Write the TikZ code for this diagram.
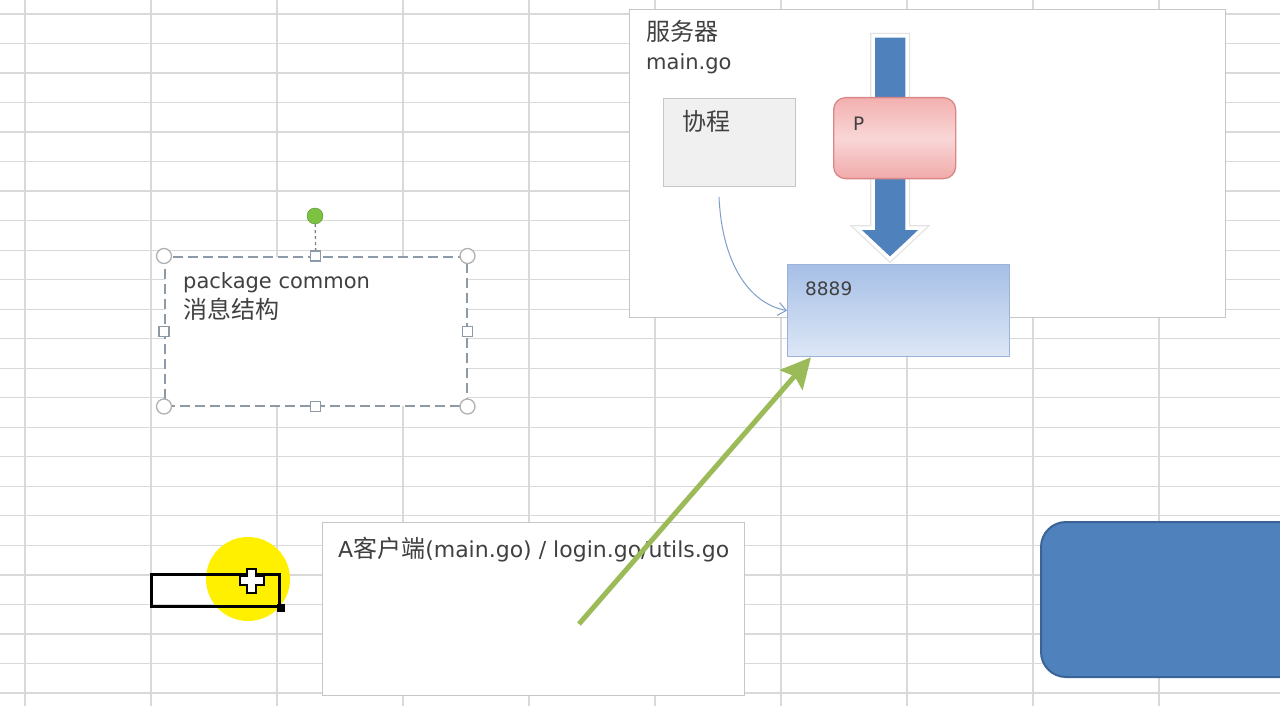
\documentclass[tikz,border=0pt]{standalone}
\usepackage{fontspec}
\setmainfont{DejaVu Sans}
\newfontfamily\cjk{Noto Sans CJK SC}
\usetikzlibrary{positioning,arrows.meta}
\definecolor{gridgray}{HTML}{D9D9D9}
\definecolor{boxedge}{HTML}{C6C6C6}
\definecolor{ink}{HTML}{404040}
\definecolor{officeblue}{HTML}{4F81BD}
\definecolor{officeedge}{HTML}{3B6496}
\definecolor{porttop}{HTML}{A6BFE6}
\definecolor{portbottom}{HTML}{DDE7F6}
\definecolor{portedge}{HTML}{9CB3D9}
\definecolor{pinktop}{HTML}{F3B0B0}
\definecolor{pinkmid}{HTML}{F9D6D6}
\definecolor{pinkbottom}{HTML}{F1AAAA}
\definecolor{pinkedge}{HTML}{D98787}
\definecolor{leafgreen}{HTML}{9BBB59}
\definecolor{curveblue}{HTML}{7F9FC9}
\definecolor{handlegreen}{HTML}{7CC142}
\definecolor{handleedge}{HTML}{8C99A6}
\definecolor{marker}{HTML}{FFF000}
\newcommand{\zhtext}[1]{{\cjk\fontsize{24}{28}\selectfont #1}}
\tikzset{
  gridline/.style={draw=gridgray, line width=1.3pt},
  panel/.style={draw=boxedge, fill=white, line width=1.3pt, inner sep=0, anchor=north west},
  lbl/.style={inner sep=0, anchor=base west, text=ink, font=\fontsize{21}{25}\selectfont},
  smalllbl/.style={lbl, font=\fontsize{18.5}{22}\selectfont},
  procbox/.style={panel, draw=pinkedge, rounded corners=12pt, top color=pinktop, bottom color=pinkbottom, middle color=pinkmid},
  portbox/.style={panel, draw=portedge, top color=porttop, bottom color=portbottom},
  bluebox/.style={panel, draw=officeedge, fill=officeblue, line width=2pt, rounded corners=25pt},
  selbox/.style={panel, draw=handleedge, line width=1.5pt, dash pattern=on 10pt off 5pt},
  roundhandle/.style={circle, draw=gray!60, fill=white, line width=1.3pt, inner sep=0, minimum size=15pt},
  squarehandle/.style={rectangle, draw=handleedge, fill=white, line width=1.3pt, inner sep=0, minimum size=10pt},
  curvearrow/.style={draw=curveblue, line width=1pt, -{Straight Barb[length=8pt,width=13pt]}},
  greenarrow/.style={draw=leafgreen, line width=5pt, -{Stealth[length=30pt,width=30pt,inset=5pt]}},
  cellbox/.style={panel, draw=black, fill=none, line width=3pt}
}
\begin{document}
\begin{tikzpicture}[x=1pt,y=1pt]
\clip (0,0) rectangle (1280,-706);
\fill[white] (0,0) rectangle (1280,-706);
\foreach \gx in {0,...,9}
  \draw[gridline] ({25+126*\gx},0) -- ({25+126*\gx},-706);
\foreach \gy in {0,...,23}
  \draw[gridline] (0,{-14-29.52*\gy}) -- (1280,{-14-29.52*\gy});

\node[panel, minimum width=596pt, minimum height=308pt] (server) at (629,-9) {};
\node[lbl] (servername) at (646,-41) {\zhtext{服务器}};
\node[lbl] (servermain) at (646,-70) {main.go};
\node[panel, fill=gray!12, minimum width=132pt, minimum height=88pt] (coro) at (663,-98) {};
\node[lbl] (coroname) at (682,-131) {\zhtext{协程}};

\draw[fill=officeblue, draw=white, line width=3.5pt, line join=miter,
      preaction={draw=gray!22, line width=6pt}]
  (873,-36) -- (907,-36) -- (907,-228) -- (923,-228) -- (890,-259)
  -- (857,-228) -- (873,-228) -- cycle;
\node[procbox, minimum width=122pt, minimum height=81pt] (proc) at (833,-97) {};
\node[smalllbl] (procname) at (853,-131) {P};

\node[portbox, minimum width=222pt, minimum height=92pt] (port) at (787,-264) {};
\node[smalllbl] (portname) at (805,-295) {8889};
\coordinate (cstart) at (719,-197);
\draw[curvearrow] (cstart) .. controls (722,-262) and (748,-303) .. (port.west);

\node[selbox, minimum width=302pt, minimum height=149pt] (common) at (164,-256) {};
\node[lbl] (commonname) at (183,-288) {package common};
\node[lbl] (commonmsg) at (183,-318) {\zhtext{消息结构}};
\node[circle, draw=handlegreen!75!black, fill=handlegreen, inner sep=0, minimum size=16pt] (rot) at (315,-216) {};
\draw[draw=gray, line width=1.3pt, dash pattern=on 3pt off 3pt] (rot) -- (common.north);
\foreach \a in {north west,north east,south west,south east}
  \node[roundhandle] at (common.\a) {};
\foreach \a in {north,south,east,west}
  \node[squarehandle] at (common.\a) {};

\node[panel, minimum width=422pt, minimum height=173pt] (client) at (322,-522) {};
\node[lbl, font=\fontsize{22}{26}\selectfont] (clientname) at (338,-557) {A\zhtext{客户端}(main.go) / login.go/utils.go};
\coordinate (gtail) at (579,-624);
\draw[greenarrow] (gtail) -- (port.208);

\node[bluebox, minimum width=280pt, minimum height=155pt] (bigblue) at (1040,-521) {};

\fill[marker] (248,-579) circle (42);
\node[cellbox, minimum width=128pt, minimum height=32pt] (cell) at (150,-573) {};
\fill[black] ([shift={(-4,-4)}]cell.south east) rectangle ([shift={(4,4)}]cell.south east);
\draw[fill=white, draw=black, line width=1.5pt]
  (247,-569) -- (256,-569) -- (256,-576) -- (264,-576) -- (264,-585) -- (256,-585)
  -- (256,-593) -- (247,-593) -- (247,-585) -- (240,-585) -- (240,-576) -- (247,-576) -- cycle;
\end{tikzpicture}
\end{document}
